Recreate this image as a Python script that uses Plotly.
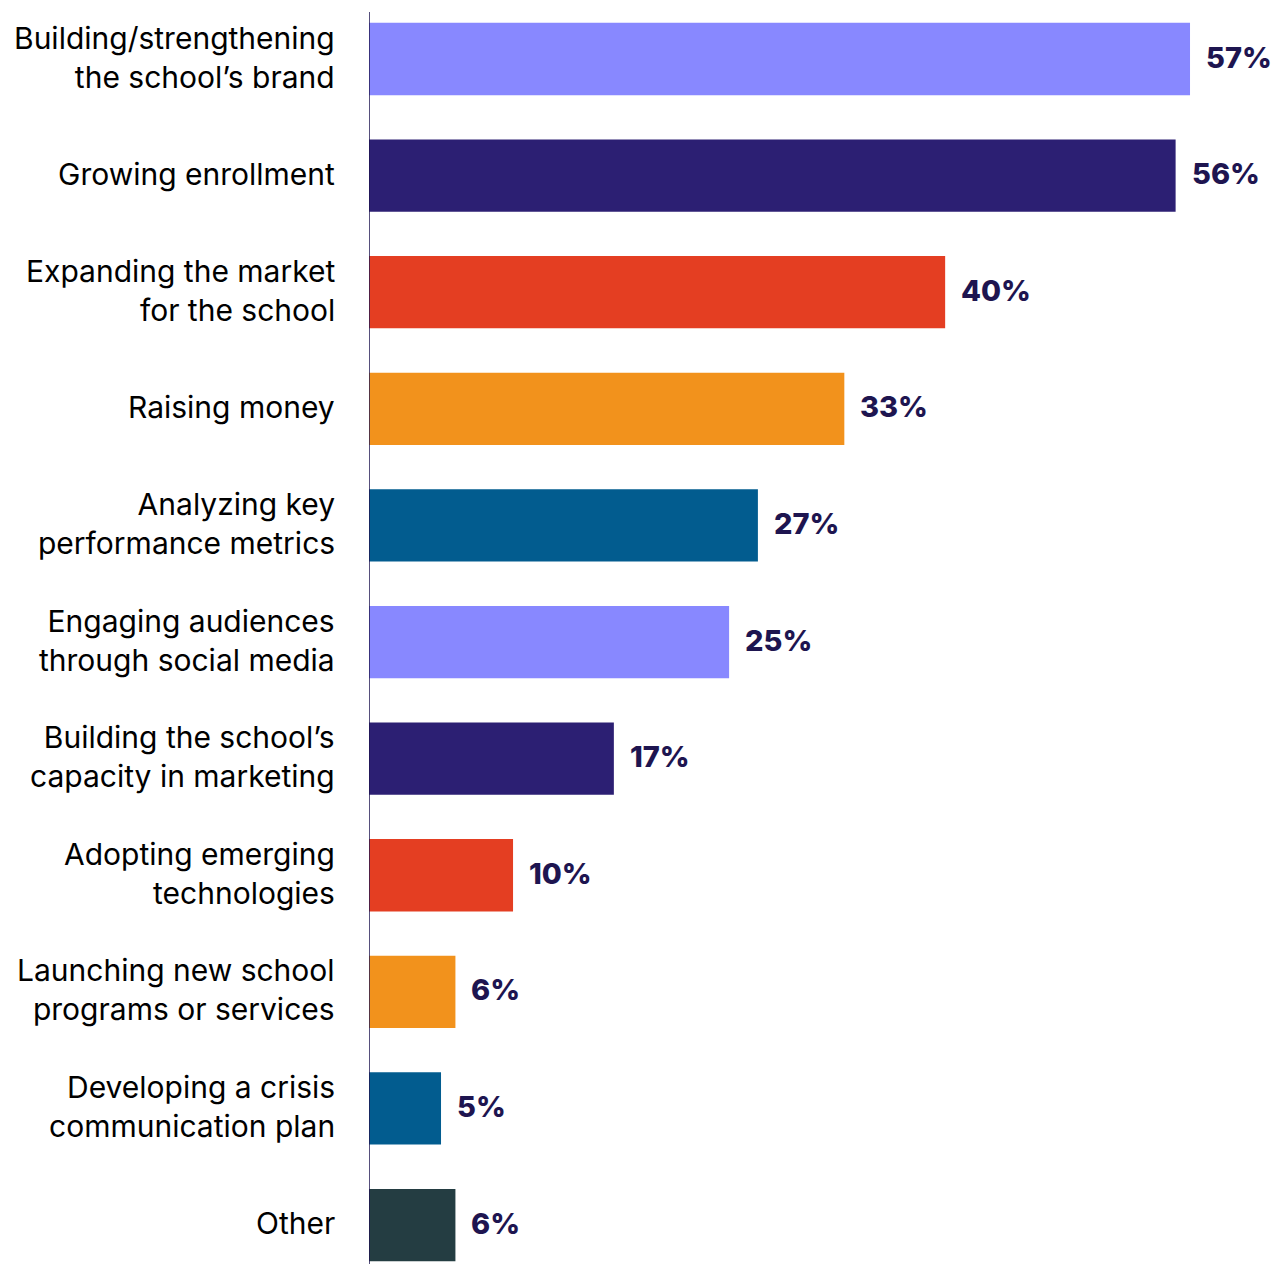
import plotly.graph_objects as go

# Survey results: marketing priorities
categories = [
    "Building/strengthening<br>the school’s brand",
    "Growing enrollment",
    "Expanding the market<br>for the school",
    "Raising money",
    "Analyzing key<br>performance metrics",
    "Engaging audiences<br>through social media",
    "Building the school’s<br>capacity in marketing",
    "Adopting emerging<br>technologies",
    "Launching new school<br>programs or services",
    "Developing a crisis<br>communication plan",
    "Other",
]
values = [57, 56, 40, 33, 27, 25, 17, 10, 6, 5, 6]
colors = [
    "#8888FF", "#2C1F73", "#E43E22", "#F2921C", "#025C8F",
    "#8888FF", "#2C1F73", "#E43E22", "#F2921C", "#025C8F", "#243D42",
]

NAVY = "#1E1550"
FONT = "Inter"

ypos = list(range(len(categories)))

fig = go.Figure(
    go.Bar(
        x=values,
        y=ypos,
        orientation="h",
        marker=dict(color=colors, line=dict(width=0)),
        width=0.62,
        hoverinfo="skip",
    )
)

annotations = []
for i, (cat, v) in enumerate(zip(categories, values)):
    # value label just past the bar end
    annotations.append(dict(
        x=v, y=i, xref="x", yref="y", text=f"{v}%",
        showarrow=False, xanchor="left", yanchor="middle",
        xshift=14, yshift=2,
        font=dict(family=FONT, size=29, color=NAVY, weight=800),
    ))
    # category label to the left of the axis line
    annotations.append(dict(
        x=0, y=i, xref="x", yref="y", text=cat,
        showarrow=False, xanchor="right", yanchor="middle", align="right",
        xshift=-33, yshift=2, borderpad=0,
        font=dict(family=FONT, size=30, color="#000000"),
    ))

fig.update_layout(
    width=1275,
    height=1264,
    margin=dict(l=369, r=0, t=0, b=0),
    paper_bgcolor="white",
    plot_bgcolor="white",
    showlegend=False,
    annotations=annotations,
    xaxis=dict(range=[0, 62.9], visible=False, fixedrange=True),
    yaxis=dict(range=[10.334, -0.506], visible=False, fixedrange=True),
    shapes=[dict(
        type="line", xref="x", yref="y",
        x0=0, x1=0, y0=-0.403, y1=10.334,
        line=dict(color=NAVY, width=1.5),
    )],
)

fig.write_html("out.html")
